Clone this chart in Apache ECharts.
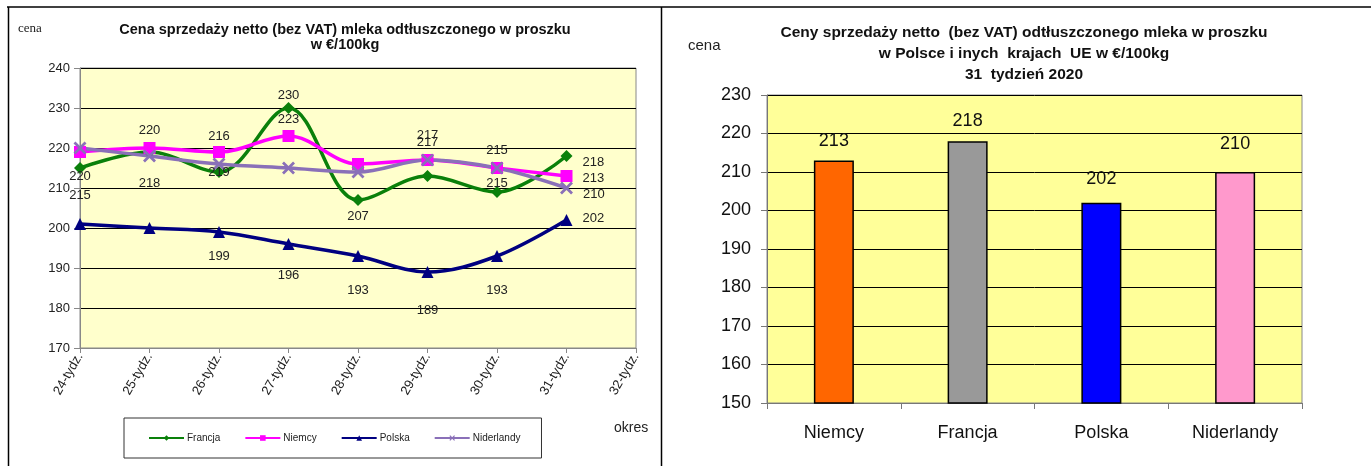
<!DOCTYPE html>
<html>
<head>
<meta charset="utf-8">
<script src="https://cdn.jsdelivr.net/npm/echarts@6/dist/echarts.min.js"></script>
<style>
  html, body { margin: 0; padding: 0; background: #fff; }
  #main { width: 1371px; height: 466px; }
</style>
</head>
<body>
<div id="main"></div>
<script>
// Wykres liniowy - tygodnie
const weeks = ['24-tydz.', '25-tydz.', '26-tydz.', '27-tydz.', '28-tydz.', '29-tydz.', '30-tydz.', '31-tydz.', '32-tydz.'];
const francja = [215, 219, 214, 230, 207, 213, 209, 218];
const niemcy = [219, 220, 219, 223, 216, 217, 215, 213];
const polska = [201, 200, 199, 196, 193, 189, 193, 202];
const niderlandy = [220, 218, 216, 215, 214, 217, 215, 210];
const leftTicks = [170, 180, 190, 200, 210, 220, 230, 240];

// Wykres słupkowy - 31 tydzień 2020
const countries = ['Niemcy', 'Francja', 'Polska', 'Niderlandy'];
const week31 = [213, 218, 202, 210];
const rightTicks = [150, 160, 170, 180, 190, 200, 210, 220, 230];

// położenie etykiet (pozycja, odstęp, przesunięcie w pionie)
const labFrancja = [['bottom', 15], null, null, ['top', 0], ['bottom', 4], null, null, ['right', 10, 6]];
const labNiemcy = [null, ['top', 5], ['bottom', 8], ['top', 4], null, ['top', 12], ['top', 5], ['right', 10, 2]];
const labPolska = [null, null, ['bottom', 12], ['bottom', 19], ['bottom', 22], ['bottom', 26], ['bottom', 22], ['right', 10, -2]];
const labNiderlandy = [['bottom', 15], ['bottom', 14], ['top', 15], null, null, ['top', 5], ['bottom', 2], ['right', 10, 6]];
const barColors = ['#FF6600', '#999999', '#0000FF', '#FF99CC'];
const barLabelDist = [10, 11, 15, 19];

const font = '"Liberation Sans", Arial, sans-serif';

function withLabels(values, labs) {
    return values.map((v, i) => {
        const l = labs[i];
        if (!l) return { value: v, label: { show: false } };
        return {
            value: v,
            label: { show: true, position: l[0], distance: l[1], offset: [0, l[2] || 0] }
        };
    });
}

function lineSeries(name, values, labs, color, symbol, size) {
    return {
        name: name,
        type: 'line',
        xAxisIndex: 0,
        yAxisIndex: 0,
        smooth: 0.35,
        symbol: symbol,
        symbolSize: size,
        showAllSymbol: true,
        data: withLabels(values, labs),
        lineStyle: { color: color, width: 3.5 },
        itemStyle: { color: color },
        label: { color: '#222', fontSize: 13, fontFamily: font },
        z: 3
    };
}

const xMark = 'path://M0,1.5L1.5,0L5,3.5L8.5,0L10,1.5L6.5,5L10,8.5L8.5,10L5,6.5L1.5,10L0,8.5L3.5,5Z';

const chart = echarts.init(document.getElementById('main'));

const option = {
    animation: false,
    textStyle: { fontFamily: font },
    grid: [
        { left: 80, top: 68, width: 556, height: 280, show: true, backgroundColor: '#FFFFCC', borderColor: '#888', borderWidth: 1 },
        { left: 767, top: 95, width: 535, height: 308, show: true, backgroundColor: '#FFFF99', borderColor: '#888', borderWidth: 1 }
    ],
    legend: {
        data: ['Francja', 'Niemcy', 'Polska', 'Niderlandy'],
        left: 124,
        top: 418,
        padding: [15, 21, 15, 24],
        itemGap: 24,
        itemWidth: 35,
        itemHeight: 7,
        borderColor: '#333',
        borderWidth: 1,
        textStyle: { fontSize: 10, color: '#222', fontFamily: font, padding: [0, 0, 0, -2] }
    },
    xAxis: [
        {
            gridIndex: 0,
            type: 'category',
            data: weeks,
            boundaryGap: false,
            axisLine: { lineStyle: { color: '#888', width: 1 } },
            axisTick: { show: true, length: 5, interval: 0, lineStyle: { color: '#888' } },
            axisLabel: { interval: 0, rotate: 60, fontSize: 13, color: '#222', margin: 6 },
            splitLine: { show: false }
        },
        {
            gridIndex: 1,
            type: 'category',
            data: countries,
            boundaryGap: true,
            axisLine: { lineStyle: { color: '#777', width: 1 } },
            axisTick: { show: true, length: 6, lineStyle: { color: '#777' } },
            axisLabel: { fontSize: 18, color: '#111', margin: 21 },
            splitLine: { show: false }
        }
    ],
    yAxis: [
        {
            gridIndex: 0,
            type: 'value',
            min: leftTicks[0],
            max: leftTicks[leftTicks.length - 1],
            interval: 10,
            axisLine: { show: true, lineStyle: { color: '#888' } },
            axisTick: { show: true, length: 6, lineStyle: { color: '#888' } },
            axisLabel: { fontSize: 13, color: '#222', margin: 10 },
            splitLine: { show: true, lineStyle: { color: '#000', width: 1 } }
        },
        {
            gridIndex: 1,
            type: 'value',
            min: rightTicks[0],
            max: rightTicks[rightTicks.length - 1],
            interval: 10,
            axisLine: { show: true, lineStyle: { color: '#777' } },
            axisTick: { show: true, length: 6, lineStyle: { color: '#777' } },
            axisLabel: { fontSize: 18, color: '#111', margin: 16 },
            splitLine: { show: true, lineStyle: { color: '#000', width: 1 } }
        }
    ],
    series: [
        lineSeries('Francja', francja, labFrancja, '#0A800A', 'diamond', 12),
        lineSeries('Niemcy', niemcy, labNiemcy, '#FF00FF', 'rect', 12),
        lineSeries('Polska', polska, labPolska, '#000080', 'triangle', 12),
        lineSeries('Niderlandy', niderlandy, labNiderlandy, '#8A70B8', xMark, 13),
        {
            name: '31 tydzień 2020',
            type: 'bar',
            xAxisIndex: 1,
            yAxisIndex: 1,
            barWidth: 40,
            data: week31.map((v, i) => ({
                value: v,
                itemStyle: { color: barColors[i] },
                label: { distance: barLabelDist[i] }
            })),
            itemStyle: { borderColor: '#000', borderWidth: 1.5 },
            label: { show: true, position: 'top', fontSize: 18, color: '#111', fontFamily: font }
        }
    ],
    graphic: [
        { type: 'line', shape: { x1: 7, y1: 7, x2: 1371, y2: 7 }, style: { stroke: '#000', lineWidth: 1.5 } },
        { type: 'line', shape: { x1: 8.5, y1: 7, x2: 8.5, y2: 466 }, style: { stroke: '#000', lineWidth: 1.5 } },
        { type: 'line', shape: { x1: 661.5, y1: 7, x2: 661.5, y2: 466 }, style: { stroke: '#000', lineWidth: 1.5 } },
        {
            type: 'text', x: 345, y: 37,
            style: {
                text: 'Cena sprzedaży netto (bez VAT) mleka odtłuszczonego w proszku\nw €/100kg',
                font: 'bold 14.5px ' + font, fill: '#111', textAlign: 'center', textVerticalAlign: 'middle', lineHeight: 15
            }
        },
        {
            type: 'text', x: 18, y: 29,
            style: { text: 'cena', font: '13px "Liberation Serif", "Times New Roman", serif', fill: '#222', textVerticalAlign: 'middle' }
        },
        {
            type: 'text', x: 614, y: 428,
            style: { text: 'okres', font: '14px ' + font, fill: '#222', textVerticalAlign: 'middle' }
        },
        {
            type: 'text', x: 1024, y: 54,
            style: {
                text: 'Ceny sprzedaży netto  (bez VAT) odtłuszczonego mleka w proszku\nw Polsce i inych  krajach  UE w €/100kg\n31  tydzień 2020',
                font: 'bold 15.5px ' + font, fill: '#111', textAlign: 'center', textVerticalAlign: 'middle', lineHeight: 21
            }
        },
        {
            type: 'text', x: 688, y: 46,
            style: { text: 'cena', font: '15px ' + font, fill: '#222', textVerticalAlign: 'middle' }
        }
    ]
};

chart.setOption(option);
</script>
</body>
</html>
